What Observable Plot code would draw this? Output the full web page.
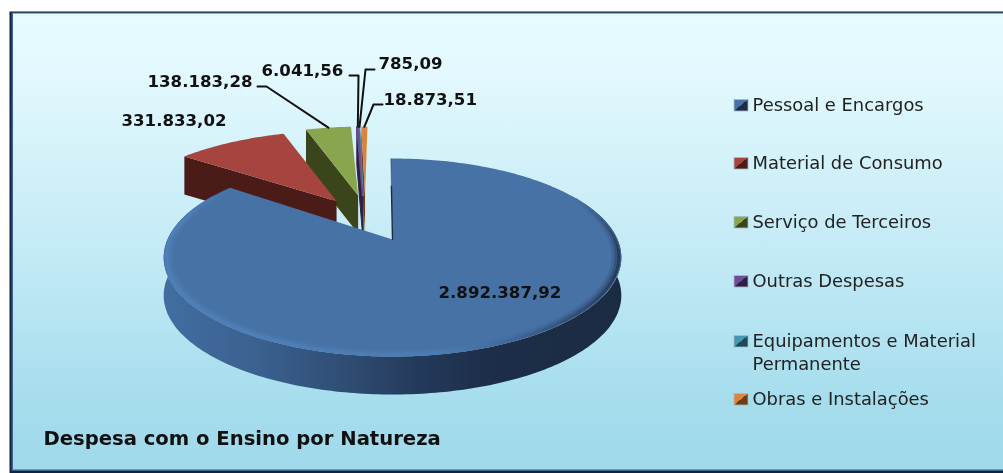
<!DOCTYPE html>
<html>
<head>
<meta charset="utf-8">
<script src="https://cdn.jsdelivr.net/npm/d3@7"></script>
<script src="https://cdn.jsdelivr.net/npm/@observablehq/plot@0.6"></script>
<style>
html,body{margin:0;padding:0;background:#fff}
#chart svg{display:block;filter:blur(.45px)}
</style>
</head>
<body>
<div id="chart"></div>
<script>
const categories = ["Pessoal e Encargos","Material de Consumo","Serviço de Terceiros","Outras Despesas","Equipamentos e Material Permanente","Obras e Instalações"];
const legendLines = [["Pessoal e Encargos"],["Material de Consumo"],["Serviço de Terceiros"],["Outras Despesas"],["Equipamentos e Material","Permanente"],["Obras e Instalações"]];
const values = [2892387.92,331833.02,138183.28,6041.56,785.09,18873.51];
const topColors = ["#4672a6","#a64440","#89a54e","#6f4f94","#4198af","#db843d"];
const faceColors = ["#1c2c46","#4a1b17","#3a451c","#2e1f47","#1d4a58","#6e3d14"];
const chartTitle = "Despesa com o Ensino por Natureza";

// layout constants (pixels of the picture)
const W=1003,H=473,CX=392,CY=239,A=225,B=95.7,K=0.182,DEPTH=38;
const explode=[0,0.53,0.51,0.5,0.5,0.5], shiftU=[0,0.01,-0.085,-0.12,-0.12,-0.12], apexU=[0,0.03,0.012,0,0,0];
const labelPos=[[438,292],[121,120],[147,81],[261,70],[378,63],[383,99]];
const leaderKnee=[null,null,[[257,86],[266,86]],[[349,75],[358,75]],[[374,69],[365,69]],[[382,104],[373,104]]];
const legendX=752, legendSwatchX=[734,748];
const legendY=[[105],[163],[222],[281],[341,364],[399]];

const fmt=d3.formatLocale({decimal:",",thousands:".",grouping:[3]}).format(",.2f");
const sx=p=>(p-CX)/A, sy=p=>(CY-p)/B, dY=DEPTH/B;
const rad=d=>d*Math.PI/180;
const total=d3.sum(values);
const ROT=-0.5;
let acc=0;
const slices=values.map((v,i)=>{const a0=acc/total*360+ROT;acc+=v;const a1=acc/total*360+ROT;return{i,a0,a1,mid:(a0+a1)/2};});
// ground-plane point to perspective coordinates
const proj=(u,v,drop=0)=>{const w=1+K*v;return{x:u/w,y:v/w-drop};};
const origin=s=>({u:explode[s.i]*Math.sin(rad(s.mid))+shiftU[s.i],v:explode[s.i]*Math.cos(rad(s.mid))});
const rim=(s,t,r=1,drop=0)=>{const o=origin(s);return proj(o.u+r*Math.sin(rad(t)),o.v+r*Math.cos(rad(t)),drop);};
const arc=(s,t0,t1,r=1,drop=0)=>{const n=Math.max(2,Math.ceil(Math.abs(t1-t0)));return d3.range(n+1).map(j=>rim(s,t0+(t1-t0)*j/n,r,drop));};
const apex=(s,drop=0)=>{const o=origin(s);return proj(o.u+apexU[s.i],o.v,drop);};
const poly=(pts,fill,stroke="none",strokeWidth=1)=>Plot.line(pts,{x:"x",y:"y",fill,stroke,strokeWidth,curve:"linear-closed"});
const stripe=(pts,stroke,strokeWidth,strokeOpacity=1,strokeLinecap="round")=>Plot.line(pts,{x:"x",y:"y",stroke,strokeWidth,strokeOpacity,strokeLinecap});

const defs=()=>{
  const d=d3.create("svg:defs");
  const lin=(id,stops,attrs)=>{
    const g=d.append("linearGradient").attr("id",id);
    Object.entries(attrs).forEach(([k,v])=>g.attr(k,v));
    stops.forEach(([o,c])=>g.append("stop").attr("offset",o).attr("stop-color",c));
  };
  lin("bg",[[0,"#e6fbff"],[0.12,"#e3f9fe"],[0.5,"#c5ebf6"],[0.85,"#a6dded"],[1,"#9fd9ea"]],{x1:0,y1:0,x2:0,y2:1});
  lin("side",[[0,"#416da0"],[0.2,"#3b618f"],[0.42,"#2e4a70"],[0.55,"#243a5c"],[0.7,"#1d2e49"],[1,"#1b2b42"]],{gradientUnits:"userSpaceOnUse",x1:165,y1:0,x2:622,y2:0});
  lin("bevel",[[0,"#4f82bc"],[0.6,"#4c7db5"],[0.76,"#3f6595"],[0.92,"#2c4164"],[1,"#1d2c45"]],{gradientUnits:"userSpaceOnUse",x1:165,y1:0,x2:622,y2:0});
  topColors.forEach((c,i)=>lin("sw"+i,[[0,c],[0.5,c],[0.5,faceColors[i]],[1,faceColors[i]]],{x1:0,y1:1,x2:1,y2:0,gradientTransform:"rotate(90 .5 .5)"}));
  return d.node();
};

const marks=[defs,
  Plot.frame({fill:"#12233c",stroke:"none",insetLeft:9,insetTop:11,insetBottom:0}),
  Plot.frame({fill:"#3f6190",stroke:"none",insetLeft:11,insetTop:12,insetBottom:2.5}),
  Plot.frame({fill:"url(#bg)",stroke:"none",insetLeft:12.5,insetTop:13,insetBottom:4})
];

// exploded slices, back to front
[5,4,3,2,1].forEach(i=>{
  const s=slices[i];
  const a=apex(s), ad=apex(s,dY), p=rim(s,s.a0), pd=rim(s,s.a0,1,dY);
  const thin=(s.a1-s.a0)<1;
  marks.push(poly([a,p,pd,ad],faceColors[i],thin?faceColors[i]:"none",1));
  marks.push(poly([a,...arc(s,s.a0,s.a1)],topColors[i],thin?topColors[i]:"none",1.2));
});

// big slice
const big=slices[0];
const wallTop=arc(big,62,300), wallBottom=arc(big,300,62,1,dY);
marks.push(poly([...wallTop,...wallBottom],"url(#side)"));
marks.push(poly([apex(big),...arc(big,big.a0,big.a1)],topColors[0]));
// soft bevel along the front rim, fading out at both ends
const bevelFrom=62, bevelTo=big.a1-2, bevelStep=3;
d3.range(bevelFrom,bevelTo,bevelStep).forEach(t=>{
  const env=Math.min(1,(t-bevelFrom)/35,(bevelTo-t)/25);
  [[0.99,3,0.8],[0.98,3.5,0.45],[0.968,4,0.2]].forEach(([r,w,o])=>
    marks.push(stripe(arc(big,t,t+bevelStep,r),"url(#bevel)",w,o*env,"butt")));
});
marks.push(stripe([rim(big,big.a0,0.62),apex(big)],faceColors[0],1.4));
marks.push(stripe([rim(big,big.a0,1),rim(big,big.a0,0.62)],faceColors[0],0.7,0.6));

// leader lines
leaderKnee.forEach((pts,i)=>{
  if(!pts) return;
  const s=slices[i];
  const end=rim(s,s.mid);
  marks.push(stripe([...pts.map(([a,b])=>({x:sx(a),y:sy(b)})),{x:end.x,y:end.y}],"#111",2));
});

// value labels
const labelRows=values.map((v,i)=>({x:sx(labelPos[i][0]),y:sy(labelPos[i][1]),t:fmt(v)}));
marks.push(Plot.text(labelRows,{x:"x",y:"y",text:"t",textAnchor:"start",fontFamily:"DejaVu Sans",fontWeight:"bold",fontSize:16.6,fill:"#111"}));

// legend
marks.push(Plot.rect(categories.map((c,i)=>({i,x1:sx(legendSwatchX[0]),x2:sx(legendSwatchX[1]),y1:sy(legendY[i][0]-5.5),y2:sy(legendY[i][0]+6)})),{x1:"x1",x2:"x2",y1:"y1",y2:"y2",fill:d=>"url(#sw"+d.i+")",stroke:"#a9bcc9",strokeWidth:0.8}));
const legendRows=legendLines.flatMap((ls,i)=>ls.map((t,j)=>({t,x:sx(legendX),y:sy(legendY[i][j])})));
marks.push(Plot.text(legendRows,{x:"x",y:"y",text:"t",textAnchor:"start",fontFamily:"DejaVu Sans",fontSize:17.9,fill:"#222"}));

// title
marks.push(Plot.text([chartTitle],{x:sx(43),y:sy(438),text:d=>d,textAnchor:"start",fontFamily:"DejaVu Sans",fontWeight:"bold",fontSize:19.6,fill:"#111"}));

const chart=Plot.plot({
  width:W,height:H,margin:0,
  style:{background:"#fff"},
  x:{axis:null,domain:[-1,1],range:[CX-A,CX+A]},
  y:{axis:null,domain:[-1,1],range:[CY+B,CY-B]},
  color:{type:"identity"},
  marks
});
document.getElementById("chart").appendChild(chart);
</script>
</body>
</html>
